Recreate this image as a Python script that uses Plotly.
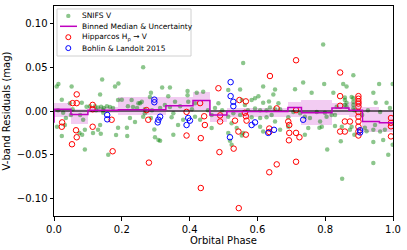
import plotly.graph_objects as go

# ---------------- data ----------------
snifs_phase = [0.013,0.008,0.023,0.052,0.047,0.055,0.082,0.096,0.106,0.136,0.142,0.190,0.180,0.189,0.200,0.229,0.249,0.218,0.233,
0.121,0.130,0.139,0.147,0.156,0.165,0.174,0.124,0.145,0.012,0.027,0.035,0.050,0.077,0.086,0.032,0.136,0.009,0.115,0.083,0.023,
0.189,0.224,0.215,0.145,0.130,0.239,0.075,0.091,0.138,0.183,0.216,0.091,0.160,
0.263,0.319,0.342,0.286,0.283,0.337,0.394,0.394,0.421,0.440,0.254,0.259,0.327,0.357,0.396,0.416,0.485,0.245,0.268,0.289,0.313,
0.342,0.372,0.407,0.268,0.263,0.286,0.352,0.347,0.381,0.416,0.465,0.465,0.296,0.352,0.298,0.313,0.308,0.431,0.366,0.475,0.454,0.496,
0.558,0.617,0.652,0.514,0.603,0.647,0.583,0.617,0.634,0.662,0.554,0.563,0.572,0.593,0.608,0.627,0.637,0.652,0.667,0.529,0.549,
0.514,0.583,0.608,0.627,0.642,0.652,0.691,0.691,0.706,0.726,0.740,0.524,0.539,0.558,0.514,0.608,0.617,0.667,0.750,0.740,0.519,
0.524,0.554,0.549,0.735,0.711,0.760,0.593,
0.794,0.883,0.797,0.853,0.863,0.959,0.824,0.942,0.999,0.858,0.858,0.863,0.858,0.878,0.883,0.883,0.883,0.883,0.886,0.981,0.949,
0.834,0.863,0.775,0.799,0.819,0.829,0.755,0.785,0.804,0.790,0.873,0.947,0.962,0.942,0.878,0.849,0.806,0.846,0.850,0.886,0.942,
0.942,0.971,0.986,0.999,0.917,0.976,0.909,0.926,0.962,0.991,0.829,0.783,0.922]
snifs_resid = [0.031,0.028,0.013,0.028,0.009,0.002,0.0095,0.005,0.0055,0.019,0.036,0.0315,0.028,0.0125,0.013,0.0125,0.009,0.0055,0.0045,
0.0055,0.004,0.005,0.0035,0.0055,0.0045,0.0035,0.001,0.001,0.001,-0.002,-0.008,-0.0045,-0.0045,-0.010,-0.016,-0.016,-0.018,-0.025,-0.027,-0.0285,
-0.019,-0.008,-0.019,-0.002,-0.0215,-0.0125,-0.025,-0.0215,-0.026,-0.0275,-0.0285,-0.044,-0.050,
0.050,0.027,0.027,0.021,0.016,0.017,0.023,0.018,0.021,0.022,0.009,0.0105,0.007,0.0105,0.0105,0.009,0.009,0.0035,0.002,0.001,0.0035,
0.0045,0.0055,0.002,-0.0025,-0.0065,-0.008,-0.0025,-0.007,-0.010,-0.0065,-0.0045,-0.0195,-0.021,-0.027,-0.030,-0.034,-0.033,-0.010,-0.016,0.0035,0.001,0.001,
0.055,0.028,0.0245,0.024,0.017,0.019,0.0125,0.0095,0.011,0.009,0.0125,0.007,0.001,0.003,0.001,0.001,0.004,0.002,0.002,-0.0025,-0.0045,
-0.0065,-0.007,-0.008,-0.007,-0.0045,-0.012,-0.007,-0.018,-0.001,-0.0025,-0.0065,-0.014,-0.0195,-0.025,-0.025,-0.018,-0.0235,-0.0215,-0.0195,-0.027,-0.034,
-0.0385,-0.028,0.0245,0.0325,0.025,0.021,0.0145,
0.076,0.041,0.031,0.031,0.028,0.031,0.021,0.021,0.031,0.0155,0.0125,0.0095,0.007,0.016,0.0145,0.0105,0.007,0.003,0.001,0.0095,0.0095,
0.005,0.005,-0.001,-0.002,-0.0045,-0.0045,-0.008,-0.012,-0.0065,-0.018,-0.0215,-0.016,-0.0235,-0.0215,-0.018,-0.018,-0.044,-0.0345,-0.0775,-0.027,-0.0355,
-0.0595,-0.033,-0.050,-0.0385,-0.019,-0.0215,-0.0045,0.001,-0.001,0.0035,-0.017,-0.019,-0.023]

hip_phase = [0.024,0.023,0.067,0.055,0.067,0.114,0.114,0.065,0.114,0.067,0.170,0.053,0.173,0.280,0.391,0.433,0.433,0.488,0.273,0.278,
0.391,0.431,0.443,0.445,0.485,0.490,0.490,0.714,0.637,0.547,0.566,0.563,0.566,0.568,0.534,0.635,0.635,0.566,0.544,0.691,0.694,0.694,
0.714,0.724,0.530,0.657,0.635,0.714,0.693,0.714,0.545,0.844,0.844,0.844,0.898,0.898,0.898,0.898,0.898,0.898,0.898,0.898,0.898,0.898,
0.898,0.858,0.873,0.844,0.858,0.994,0.994,0.994,0.994,0.657]
hip_resid = [-0.013,-0.018,0.019,0.009,0.009,0.007,0.002,-0.022,-0.018,-0.030,-0.010,-0.038,-0.046,-0.059,-0.028,-0.031,-0.088,-0.047,0.001,-0.010,
-0.001,0.009,-0.006,-0.016,0.026,-0.005,-0.012,0.058,0.040,0.0125,0.011,-0.002,-0.006,-0.011,-0.011,-0.020,-0.024,-0.027,-0.0235,-0.012,-0.016,-0.025,
0.001,-0.030,-0.043,-0.061,-0.070,-0.025,-0.0335,-0.058,-0.111,0.044,0.017,0.006,0.017,0.014,0.011,0.0085,0.005,-0.001,-0.0065,-0.012,-0.018,-0.0235,
-0.028,-0.012,-0.012,-0.0235,-0.0235,-0.008,-0.0135,-0.0175,-0.029,0.003]

bl_phase = [0.157,0.157,0.296,0.296,0.313,0.308,0.306,0.396,0.401,0.391,0.521,0.521,0.529,0.529,0.583,0.593,0.632,0.649,0.519,0.735,0.903,0.903]
bl_resid = [-0.0045,-0.0095,0.013,0.010,-0.0065,-0.010,-0.013,-0.008,-0.011,-0.016,0.033,0.017,0.0105,0.0055,-0.016,-0.013,-0.025,-0.0215,-0.030,-0.010,-0.022,-0.0245]

bin_edges = [0.0,0.05,0.10,0.19,0.33,0.41,0.46,0.51,0.69,0.73,0.82,0.87,0.91,0.96,1.0]
bin_median = [0.002,-0.004,0.001,0.0015,0.006,0.012,-0.0045,-0.0006,0.004,-0.002,0.0035,0.001,-0.012,-0.0135]
bin_hi = [0.009,0.002,0.005,0.0155,0.016,0.022,0.001,0.003,0.0105,0.0125,0.009,0.0105,0.005,0.001]
bin_lo = [-0.007,-0.015,-0.0025,-0.004,-0.001,0.001,-0.012,-0.0065,-0.0065,-0.016,-0.0045,-0.0065,-0.024,-0.024]

x_ticks = [0.0,0.2,0.4,0.6,0.8,1.0]
y_ticks = [-0.10,-0.05,0.00,0.05,0.10]

legend_labels = ["SNIFS V", "Binned Median & Uncertainty", "Hipparcos H<sub>p</sub> → V", "Bohlin & Landolt 2015"]

# ---------------- figure ----------------
FONT = "DejaVu Sans"
W, H = 407, 250
ML, MR, MT, MB = 54, 14, 5, 33
PW, PH = W - ML - MR, H - MT - MB

def px_x(p):  # pixel column -> paper x
    return (p - ML) / PW

def px_y(p):  # pixel row -> paper y
    return (H - MB - p) / PH

centers = [(bin_edges[i]+bin_edges[i+1])/2 for i in range(len(bin_median))]
widths = [bin_edges[i+1]-bin_edges[i] for i in range(len(bin_median))]

fig = go.Figure()
fig.add_trace(go.Bar(x=centers, y=[h-l for h, l in zip(bin_hi, bin_lo)], base=bin_lo, width=widths,
                     marker=dict(color="rgba(191,0,191,0.2)", line=dict(width=0)),
                     showlegend=False, hoverinfo="skip"))
fig.add_trace(go.Scatter(x=snifs_phase, y=snifs_resid, mode="markers", name=legend_labels[0],
                         marker=dict(color="rgba(0,128,0,0.45)", size=4.5, line=dict(width=0)),
                         showlegend=False))
fig.add_trace(go.Scatter(x=hip_phase, y=hip_resid, mode="markers", name=legend_labels[2],
                         marker=dict(symbol="circle-open", color="red", size=5.5, line=dict(width=1)),
                         showlegend=False))
fig.add_trace(go.Scatter(x=bl_phase, y=bl_resid, mode="markers", name=legend_labels[3],
                         marker=dict(symbol="circle-open", color="blue", size=5.5, line=dict(width=1)),
                         showlegend=False))
fig.add_trace(go.Scatter(x=[0, 1], y=[0, 0], mode="lines", line=dict(color="rgba(0,0,0,0.75)", width=1.3),
                         showlegend=False, hoverinfo="skip"))
fig.add_trace(go.Scatter(x=bin_edges, y=[bin_median[-1]] + bin_median, mode="lines",
                         line=dict(color="#bf00bf", width=1.5, shape="vh"),
                         name=legend_labels[1], showlegend=False))

# ---- legend drawn by hand (matplotlib-style compact layout) ----
shapes = []
annotations = []
shapes.append(dict(type="rect", xref="paper", yref="paper",
                   x0=px_x(57), x1=px_x(191), y0=px_y(55.5), y1=px_y(8),
                   line=dict(color="#d0d0d0", width=1), fillcolor="rgba(255,255,255,0.8)", layer="above"))
rows = [15, 25.5, 36.5, 47.5]
mx = px_x(68.3)
shapes.append(dict(type="circle", xref="paper", yref="paper", xsizemode="pixel", ysizemode="pixel",
                   xanchor=mx, yanchor=px_y(rows[0]), x0=-2.2, x1=2.2, y0=-2.2, y1=2.2,
                   fillcolor="rgba(0,128,0,0.45)", line=dict(width=0), layer="above"))
shapes.append(dict(type="line", xref="paper", yref="paper", x0=px_x(60), x1=px_x(77), y0=px_y(rows[1]), y1=px_y(rows[1]),
                   line=dict(color="#bf00bf", width=1.5), layer="above"))
for r, c in [(rows[2], "red"), (rows[3], "blue")]:
    shapes.append(dict(type="circle", xref="paper", yref="paper", xsizemode="pixel", ysizemode="pixel",
                       xanchor=mx, yanchor=px_y(r), x0=-2.5, x1=2.5, y0=-2.5, y1=2.5,
                       fillcolor="rgba(0,0,0,0)", line=dict(color=c, width=1), layer="above"))
for r, t in zip(rows, legend_labels):
    annotations.append(dict(text=t, xref="paper", yref="paper", x=px_x(80), y=px_y(r),
                            xanchor="left", yanchor="middle", showarrow=False,
                            font=dict(family=FONT, size=7.5, color="black")))

axis_common = dict(showline=True, linecolor="black", linewidth=1, mirror=True,
                   ticks="outside", ticklen=3.5, tickcolor="black", tickwidth=1,
                   showgrid=False, zeroline=False,
                   tickfont=dict(family=FONT, size=10, color="black"))

fig.update_layout(
    width=W, height=H,
    margin=dict(l=ML, r=MR, t=MT, b=MB),
    plot_bgcolor="white", paper_bgcolor="white",
    barmode="overlay", bargap=0,
    font=dict(family=FONT, color="black"),
    showlegend=False,
    shapes=shapes, annotations=annotations,
    xaxis=dict(range=[0, 1], tickvals=x_ticks, tickformat=".1f",
               title=dict(text="Orbital Phase", font=dict(family=FONT, size=10), standoff=3),
               **axis_common),
    yaxis=dict(range=[-0.12, 0.12], tickvals=y_ticks, tickformat=".2f",
               title=dict(text="V-band Residuals (mag)", font=dict(family=FONT, size=10), standoff=4),
               **axis_common),
)

fig.write_html("out.html", config={"displayModeBar": False},
               post_script="document.body.style.margin='0';document.body.style.padding='0';")
